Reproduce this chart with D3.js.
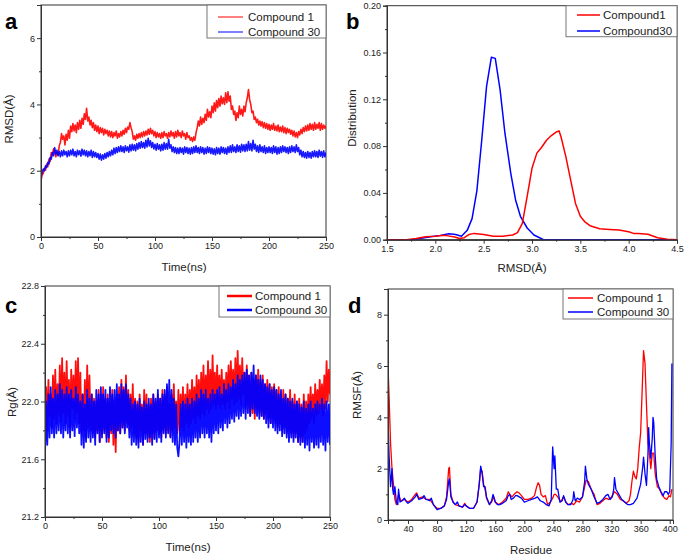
<!DOCTYPE html>
<html><head><meta charset="utf-8">
<script src="https://cdn.jsdelivr.net/npm/d3@7"></script>
<style>body{margin:0;background:#fff}svg{display:block}text{font-family:"Liberation Sans",Arial,sans-serif}</style>
</head><body>
<svg id="c" width="685" height="556"></svg>
<script>
// ---------- DATA ----------
// Panel a: RMSD vs time (ns), one value per ns from 0 to 250
const aRmsdCompound1 = [1.70,1.88,1.92,2.08,2.02,2.20,2.12,2.35,2.28,2.55,
2.48,2.66,2.58,2.42,2.55,2.48,2.75,2.85,3.12,2.95,
3.05,2.78,3.10,2.92,3.22,2.98,3.35,3.18,3.42,3.20,
3.38,3.15,3.45,3.25,3.52,3.28,3.58,3.40,3.72,3.55,
3.88,3.50,3.62,3.38,3.52,3.30,3.45,3.22,3.38,3.18,
3.35,3.12,3.30,3.15,3.28,3.08,3.25,3.12,3.22,3.05,
3.20,3.02,3.18,3.00,3.15,3.05,3.20,2.98,3.12,3.02,
3.18,3.05,3.22,3.10,3.28,3.15,3.32,3.25,3.45,3.30,
3.18,2.95,3.05,2.92,3.10,2.98,3.12,3.00,3.15,3.02,
3.18,3.05,3.20,3.08,3.25,3.10,3.28,3.12,3.22,3.05,
3.18,3.00,3.15,3.02,3.12,2.98,3.15,3.00,3.18,3.05,
3.12,2.98,3.15,3.02,3.20,3.05,3.15,2.98,3.18,3.02,
3.22,3.05,3.15,3.00,3.20,3.05,3.12,2.95,3.15,3.00,
3.05,2.92,3.00,2.88,3.02,2.92,3.15,3.30,3.50,3.35,
3.62,3.40,3.58,3.45,3.70,3.52,3.85,3.62,3.78,3.60,
3.95,3.75,4.05,3.80,4.12,3.90,4.18,3.95,4.25,4.02,
4.20,4.00,4.35,4.05,4.38,4.10,4.25,3.85,3.95,3.70,
3.80,3.52,3.75,3.60,3.95,3.70,3.85,3.65,3.95,3.78,
4.05,4.20,4.45,4.15,4.00,3.75,3.80,3.55,3.62,3.45,
3.55,3.38,3.50,3.35,3.48,3.30,3.45,3.28,3.42,3.25,
3.40,3.22,3.38,3.25,3.42,3.22,3.35,3.20,3.38,3.18,
3.32,3.18,3.35,3.15,3.30,3.12,3.28,3.15,3.25,3.10,
3.22,3.05,3.20,3.02,3.15,3.00,3.18,3.08,3.25,3.12,
3.30,3.18,3.35,3.20,3.38,3.22,3.42,3.25,3.40,3.22,
3.45,3.25,3.40,3.28,3.45,3.22,3.42,3.25,3.38,3.28,
3.35];
const aRmsdCompound30 = [1.80,1.95,2.05,2.00,2.15,2.10,2.25,2.20,2.40,2.35,
2.55,2.45,2.70,2.50,2.62,2.45,2.58,2.42,2.60,2.45,
2.62,2.48,2.58,2.42,2.60,2.45,2.62,2.48,2.65,2.45,
2.58,2.42,2.62,2.48,2.60,2.44,2.65,2.48,2.62,2.45,
2.60,2.42,2.58,2.45,2.62,2.40,2.58,2.42,2.55,2.40,
2.52,2.35,2.50,2.32,2.48,2.35,2.52,2.38,2.55,2.42,
2.58,2.45,2.62,2.48,2.68,2.52,2.70,2.55,2.72,2.58,
2.75,2.58,2.72,2.55,2.75,2.60,2.72,2.56,2.78,2.60,
2.80,2.62,2.78,2.60,2.82,2.65,2.85,2.68,2.88,2.70,
2.85,2.68,2.92,2.72,2.98,2.75,2.90,2.70,2.85,2.66,
2.80,2.62,2.82,2.65,2.78,2.60,2.80,2.62,2.85,2.65,
2.82,2.65,2.95,2.68,2.78,2.58,2.72,2.55,2.70,2.52,
2.68,2.52,2.70,2.55,2.68,2.50,2.72,2.55,2.70,2.52,
2.68,2.50,2.70,2.52,2.72,2.55,2.75,2.55,2.70,2.52,
2.72,2.55,2.70,2.50,2.68,2.52,2.72,2.55,2.70,2.52,
2.68,2.50,2.66,2.48,2.70,2.52,2.68,2.50,2.72,2.55,
2.70,2.52,2.68,2.50,2.72,2.55,2.75,2.55,2.78,2.58,
2.72,2.55,2.78,2.58,2.75,2.56,2.80,2.60,2.78,2.58,
2.80,2.60,2.88,2.62,2.82,2.60,2.92,2.65,2.80,2.58,
2.75,2.55,2.78,2.58,2.72,2.55,2.75,2.52,2.70,2.55,
2.72,2.55,2.70,2.52,2.75,2.55,2.72,2.50,2.70,2.52,
2.72,2.55,2.75,2.58,2.72,2.55,2.70,2.52,2.72,2.55,
2.75,2.58,2.72,2.55,2.78,2.58,2.70,2.48,2.62,2.42,
2.58,2.40,2.55,2.38,2.58,2.40,2.55,2.38,2.58,2.42,
2.60,2.42,2.58,2.40,2.62,2.44,2.58,2.40,2.60,2.42,
2.55];

// Panel b: RMSD distribution
const bRmsd1 = [1.5,1.7,1.8,1.9,2.0,2.1,2.2,2.25,2.3,2.35,2.4,2.5,2.6,2.7,2.8,2.85,2.9,2.95,3.0,3.05,3.1,3.15,3.2,3.25,3.28,3.3,3.35,3.4,3.45,3.5,3.55,3.6,3.7,3.8,3.9,4.0,4.05,4.1,4.2,4.3,4.4,4.5];
const bDist1 = [0,0,0.001,0.0026,0.003,0.0037,0.0023,0.001,0.0017,0.0045,0.0054,0.0045,0.003,0.003,0.004,0.006,0.014,0.037,0.061,0.074,0.079,0.085,0.089,0.092,0.093,0.088,0.071,0.051,0.031,0.020,0.015,0.012,0.0094,0.0088,0.0083,0.0068,0.0054,0.0052,0.0046,0.0017,0.0003,0];
const bRmsd30 = [1.5,1.7,1.78,1.84,1.95,2.05,2.14,2.21,2.27,2.33,2.38,2.43,2.48,2.53,2.58,2.62,2.67,2.72,2.78,2.83,2.88,2.95,3.02,3.12,3.3,4.5];
const bDist30 = [0,0,0,0.001,0.0026,0.0037,0.005,0.0045,0.003,0.008,0.018,0.042,0.085,0.131,0.156,0.155,0.128,0.091,0.057,0.034,0.020,0.010,0.004,0,0,0];

// Panel c: Rg vs time (ns), one value per ns from 0 to 250
const cRgCompound1 = [21.85,22.10,21.80,22.15,21.90,22.05,21.82,22.18,21.88,22.22,
21.85,22.12,21.90,22.25,21.86,22.30,21.92,22.20,21.85,22.28,
21.90,22.15,21.82,22.22,21.95,22.18,21.88,22.28,21.92,22.30,
21.85,22.20,21.78,22.05,21.80,22.15,21.75,22.25,21.82,22.18,
21.80,22.05,21.78,22.02,21.75,22.00,21.80,22.08,21.72,22.05,
21.78,22.10,21.80,22.02,21.75,22.05,21.72,22.00,21.78,22.08,
21.70,22.00,21.65,22.05,21.80,22.10,21.78,22.15,21.82,22.10,
21.80,22.18,21.85,22.08,21.80,22.05,21.82,22.12,21.78,22.02,
21.75,22.00,21.72,22.05,21.80,21.98,21.70,22.08,21.78,22.05,
21.75,21.98,21.72,22.02,21.78,22.05,21.75,22.00,21.80,22.05,
21.78,22.02,21.75,22.08,21.80,22.05,21.78,22.10,21.80,21.98,
21.76,22.05,21.80,22.12,21.82,22.00,21.78,22.08,21.80,22.05,
21.82,22.10,21.80,22.05,21.85,22.12,21.82,22.08,21.85,22.15,
21.88,22.10,21.85,22.18,21.90,22.15,21.88,22.20,21.92,22.25,
21.90,22.18,21.95,22.28,21.92,22.22,21.95,22.32,21.98,22.20,
21.95,22.25,21.98,22.18,21.95,22.22,21.98,22.15,21.95,22.20,
22.00,22.25,21.95,22.28,22.02,22.22,21.98,22.30,22.00,22.35,
22.02,22.25,21.98,22.30,22.05,22.20,21.95,22.25,21.98,22.18,
21.90,22.20,21.92,22.15,21.88,22.18,21.95,22.22,21.92,22.15,
21.90,22.18,21.88,22.12,21.92,22.15,21.88,22.12,21.85,22.10,
21.88,22.12,21.85,22.08,21.82,22.10,21.85,22.05,21.80,22.08,
21.82,22.05,21.78,22.02,21.80,22.08,21.78,22.00,21.75,22.05,
21.78,22.00,21.72,22.02,21.75,21.98,21.72,22.05,21.78,22.00,
21.80,22.05,21.85,22.10,21.88,22.05,21.85,22.12,21.90,22.08,
21.92,22.15,21.95,22.12,21.90,22.18,21.95,22.28,22.00,22.22,
22.05];
const cRgCompound30 = [21.62,22.00,21.70,22.05,21.75,22.10,21.78,22.02,21.75,22.08,
21.78,22.05,21.80,22.12,21.78,22.08,21.75,22.05,21.80,22.10,
21.78,22.05,21.75,22.08,21.80,22.02,21.76,22.10,21.82,22.05,
21.78,22.00,21.70,22.05,21.68,21.98,21.72,22.08,21.75,22.02,
21.72,22.05,21.75,22.00,21.70,22.08,21.78,22.05,21.72,22.10,
21.75,22.05,21.78,22.08,21.72,22.02,21.75,22.10,21.80,22.05,
21.78,22.08,21.75,22.12,21.80,22.05,21.78,22.12,21.82,22.08,
21.78,22.12,21.82,22.05,21.75,22.02,21.70,21.98,21.72,22.00,
21.70,21.98,21.68,22.02,21.72,21.96,21.70,22.00,21.74,21.98,
21.72,22.02,21.75,21.98,21.70,22.05,21.74,22.02,21.72,22.08,
21.75,22.02,21.72,22.05,21.78,22.08,21.75,22.12,21.78,22.15,
21.75,22.08,21.72,22.02,21.70,21.98,21.68,21.62,21.72,21.98,
21.70,22.00,21.72,21.98,21.68,22.02,21.72,21.98,21.70,22.02,
21.72,22.00,21.75,22.05,21.72,22.02,21.75,22.08,21.78,22.05,
21.75,22.08,21.78,22.02,21.75,22.05,21.72,22.08,21.78,22.05,
21.80,22.08,21.78,22.10,21.82,22.05,21.80,22.12,21.85,22.08,
21.82,22.12,21.85,22.10,21.88,22.15,21.86,22.12,21.90,22.18,
21.88,22.15,21.90,22.18,21.92,22.20,21.88,22.22,21.92,22.18,
21.90,22.20,21.95,22.25,21.92,22.18,21.90,22.15,21.88,22.18,
21.90,22.15,21.88,22.12,21.85,22.10,21.82,22.12,21.85,22.08,
21.82,22.10,21.80,22.08,21.78,22.05,21.80,22.08,21.76,22.02,
21.78,22.05,21.75,22.02,21.72,22.00,21.75,22.02,21.72,21.98,
21.75,22.00,21.72,21.98,21.70,21.96,21.72,22.00,21.68,21.95,
21.70,21.98,21.66,22.00,21.72,21.95,21.68,21.98,21.70,22.00,
21.68,21.98,21.72,22.02,21.70,21.98,21.66,22.00,21.72,21.98,
21.70];

// Panel d: RMSF per residue
const dResidue1 = [12,14,16,18,20,22,24,27,30,35,40,45,50,52,55,60,65,70,75,80,85,90,93,96,97,99,102,105,110,115,118,120,125,130,135,138,140,142,144,146,148,152,155,158,160,165,170,175,178,180,183,186,190,193,196,200,205,210,214,217,219,221,223,226,229,232,236,239,241,243,246,250,254,257,260,265,268,272,276,280,283,285,288,292,296,300,304,308,312,316,320,324,328,332,336,340,344,346,348,350,352,354,356,358,360,362,364,366,368,370,372,374,376,378,380,383,386,390,393,396,399,401,403];
const dRmsf1 = [6.4,4.8,3.0,2.0,1.4,0.8,0.6,1.0,0.75,0.8,0.7,0.8,1.0,1.05,0.85,0.9,0.8,0.8,0.6,0.45,0.45,0.55,0.9,2.0,2.05,1.0,0.7,0.6,0.55,0.5,0.65,0.55,0.45,0.45,0.7,1.4,2.0,1.9,1.4,1.2,0.85,0.6,0.7,0.9,0.7,0.6,0.7,0.85,1.1,1.0,0.9,1.0,1.1,1.05,0.95,0.8,0.8,0.85,0.95,1.3,1.45,1.35,1.0,0.9,0.95,0.6,0.7,0.85,1.0,1.0,0.9,0.7,0.9,0.7,0.6,0.65,0.6,0.75,0.7,0.9,1.3,1.55,1.5,1.2,1.0,0.6,0.65,0.75,0.85,0.8,0.9,1.1,1.0,0.8,0.75,0.65,0.75,1.0,1.5,1.9,1.7,1.6,2.0,2.8,3.4,5.0,6.6,6.1,4.5,3.0,2.6,2.0,2.6,2.6,1.8,1.3,1.2,0.95,0.85,0.8,0.95,0.9,1.2];
const dResidue30 = [12,14,16,18,19,20,22,24,26,27,29,32,35,38,40,45,50,52,55,60,62,65,70,72,75,80,85,90,93,96,97,99,102,105,108,110,115,118,120,125,130,135,138,140,142,144,146,148,152,155,157,160,163,166,170,175,178,180,182,185,188,190,193,196,200,205,210,215,218,222,226,230,234,237,239,241,242,244,246,249,252,254,257,260,264,267,268,270,273,276,280,283,284,286,288,292,296,300,304,308,312,315,318,321,323,324,326,330,334,338,342,346,350,355,360,363,364,366,368,370,371,372,374,376,377,378,380,382,385,388,391,393,396,398,400,402,403];
const dRmsf30 = [4.3,2.5,1.3,2.0,1.2,1.0,1.3,0.7,0.6,1.2,0.7,0.75,0.85,0.7,0.65,0.75,0.9,1.0,0.8,0.85,0.95,0.8,0.75,0.85,0.6,0.4,0.45,0.55,0.8,1.5,1.6,0.9,0.7,0.6,0.7,0.55,0.5,0.6,0.55,0.45,0.45,0.7,1.4,2.1,1.8,1.3,1.3,0.9,0.6,0.75,1.0,0.7,0.6,0.6,0.65,0.75,0.95,1.0,0.8,0.85,0.95,0.95,0.9,0.85,0.7,0.75,0.8,0.85,0.9,0.75,0.7,0.6,0.55,0.8,2.85,2.0,2.5,1.2,1.2,0.7,0.75,0.95,0.7,0.6,0.6,0.8,1.1,0.75,0.85,0.8,0.9,1.5,2.1,1.6,1.4,1.2,0.9,0.65,0.7,0.8,0.95,1.0,0.8,0.9,1.2,1.65,1.2,1.0,0.8,0.7,0.6,0.6,0.65,0.85,1.4,2.1,2.45,1.8,1.35,2.5,3.6,3.0,2.4,3.2,4.0,3.8,2.5,1.6,1.3,1.1,0.95,1.1,1.1,1.0,1.1,3.0,6.1];

// Ticks and legend labels
const aXTicks = [0,50,100,150,200,250];
const aYTicks = [0,2,4,6];
const bXTicks = [1.5,2.0,2.5,3.0,3.5,4.0,4.5];
const bYTicks = [0.00,0.04,0.08,0.12,0.16,0.20];
const cXTicks = [0,50,100,150,200,250];
const cYTicks = [21.2,21.6,22.0,22.4,22.8];
const dXTicks = [40,80,120,160,200,240,280,320,360,400];
const dYTicks = [0,2,4,6,8];
const legendA = ["Compound 1","Compound 30"];
const legendB = ["Compound1","Compound30"];

// ---------- DRAW ----------
const svg = d3.select("#c");
const RED = "#ff0000", BLUE = "#0000ff", AX = "#333";
const time = d3.range(0, 251);

function panel(o){
  const x = d3.scaleLinear().domain(o.xd).range([o.l, o.r]);
  const y = d3.scaleLinear().domain(o.yd).range([o.b, o.t]);
  const g = svg.append("g");
  g.append("rect").attr("x",o.l).attr("y",o.t).attr("width",o.r-o.l).attr("height",o.b-o.t)
   .attr("fill","none").attr("stroke",AX).attr("stroke-width",1);
  const clipId = "clip"+o.name;
  svg.append("clipPath").attr("id",clipId).append("rect")
    .attr("x",o.l).attr("y",o.t).attr("width",o.r-o.l).attr("height",o.b-o.t);
  o.series.forEach(s=>{
    const line = d3.line().x((d,i)=>x(s.xs[i])).y(d=>y(d));
    g.append("path").datum(s.ys).attr("d",line).attr("fill","none")
     .attr("stroke",s.color).attr("stroke-width",s.w).attr("stroke-opacity",s.op||1)
     .attr("stroke-linejoin","round").attr("clip-path","url(#"+clipId+")");
  });
  const xa = d3.axisBottom(x).tickValues(o.xt).tickFormat(o.xf).tickSizeOuter(0).tickSize(4).tickPadding(2);
  const xm = d3.axisBottom(x).tickValues(o.xm).tickFormat("").tickSizeOuter(0).tickSize(2);
  const ya = d3.axisLeft(y).tickValues(o.yt).tickFormat(o.yf).tickSizeOuter(0).tickSize(4).tickPadding(2);
  const ym = d3.axisLeft(y).tickValues(o.ym).tickFormat("").tickSizeOuter(0).tickSize(2);
  [[xa,"b"],[xm,"b"],[ya,"l"],[ym,"l"]].forEach(([ax,side])=>{
    const a = g.append("g").attr("transform", side==="b" ? `translate(0,${o.b})` : `translate(${o.l},0)`).call(ax);
    a.select(".domain").attr("stroke",AX);
    a.selectAll(".tick line").attr("stroke",AX);
    a.selectAll("text").attr("fill","#222").style("font-size","9px").style("font-family","Liberation Sans, Arial, sans-serif");
  });
  g.append("text").attr("x",o.xtX).attr("y",o.xtY).attr("text-anchor","middle")
   .style("font-size","11.5px").attr("fill","#222").text(o.xTitle);
  g.append("text").attr("transform",`translate(${o.ytX},${o.ytY}) rotate(-90)`).attr("text-anchor","middle")
   .attr("dy","0.35em").style("font-size","11.5px").attr("fill","#222").text(o.yTitle);
  g.append("text").attr("x",o.letX).attr("y",o.letY).style("font-size","22px").style("font-weight","bold")
   .attr("fill","#000").text(o.letter);
  const L = o.leg;
  g.append("rect").attr("x",L.x).attr("y",L.y).attr("width",L.w).attr("height",L.h)
   .attr("fill","#fff").attr("stroke","#777").attr("stroke-width",1);
  L.labels.forEach((lab,i)=>{
    g.append("line").attr("x1",L.lx0).attr("x2",L.lx1).attr("y1",L.rows[i]).attr("y2",L.rows[i])
     .attr("stroke",[RED,BLUE][i]).attr("stroke-width",L.lw);
    g.append("text").attr("x",L.tx).attr("y",L.rows[i]).attr("dy","0.35em")
     .style("font-size","11.5px").attr("fill","#222").text(lab);
  });
}

const fmtInt = d3.format("d");
panel({name:"a", l:41, r:326, t:5, b:237, xd:[0,250], yd:[0,7],
  xt:aXTicks, xm:[25,75,125,175,225], yt:aYTicks, ym:[1,3,5,7], xf:fmtInt, yf:fmtInt,
  series:[{xs:time, ys:aRmsdCompound1, color:RED, w:1.6, op:0.9},{xs:time, ys:aRmsdCompound30, color:BLUE, w:1.6, op:0.9}],
  xTitle:"Time(ns)", xtX:184, xtY:271, yTitle:"RMSD(Å)", ytX:9, ytY:119,
  letter:"a", letX:5, letY:29,
  leg:{x:207, y:5, w:119, h:33, labels:legendA, lx0:218, lx1:243, tx:248, rows:[17,32], lw:1}});

panel({name:"b", l:387, r:677, t:5.7, b:239.7, xd:[1.5,4.5], yd:[0,0.2],
  xt:bXTicks, xm:[1.75,2.25,2.75,3.25,3.75,4.25], yt:bYTicks, ym:[0.02,0.06,0.10,0.14,0.18], xf:d3.format(".1f"), yf:d3.format(".2f"),
  series:[{xs:bRmsd30, ys:bDist30, color:BLUE, w:1.5},{xs:bRmsd1, ys:bDist1, color:RED, w:1.5}],
  xTitle:"RMSD(Å)", xtX:522, xtY:272, yTitle:"Distribution", ytX:352, ytY:118,
  letter:"b", letX:346, letY:29,
  leg:{x:566, y:5.7, w:111, h:31, labels:legendB, lx0:577, lx1:600, tx:603, rows:[15,31], lw:1.5}});

panel({name:"c", l:45, r:330, t:286, b:517, xd:[0,250], yd:[21.2,22.8],
  xt:cXTicks, xm:[25,75,125,175,225], yt:cYTicks, ym:[21.4,21.8,22.2,22.6], xf:fmtInt, yf:d3.format(".1f"),
  series:[{xs:time, ys:cRgCompound1, color:RED, w:1.8, op:0.95},{xs:time, ys:cRgCompound30, color:BLUE, w:1.8, op:0.95}],
  xTitle:"Time(ns)", xtX:188, xtY:551, yTitle:"Rg(Å)", ytX:12, ytY:402,
  letter:"c", letX:5, letY:313,
  leg:{x:219, y:286, w:111, h:31, labels:legendA, lx0:227, lx1:252, tx:255, rows:[296,310], lw:2.5}});

panel({name:"d", l:388, r:673, t:289, b:520, xd:[12.5,404.5], yd:[0,9],
  xt:dXTicks, xm:[20,60,100,140,180,220,260,300,340,380], yt:dYTicks, ym:[1,3,5,7,9], xf:fmtInt, yf:fmtInt,
  series:[{xs:dResidue1, ys:dRmsf1, color:RED, w:1.3},{xs:dResidue30, ys:dRmsf30, color:BLUE, w:1.3}],
  xTitle:"Residue", xtX:531, xtY:554, yTitle:"RMSF(Å)", ytX:357, ytY:395,
  letter:"d", letX:348, letY:313,
  leg:{x:563, y:289, w:110, h:30, labels:legendA, lx0:568, lx1:593, tx:597, rows:[298,312], lw:1.5}});
</script>
</body></html>
